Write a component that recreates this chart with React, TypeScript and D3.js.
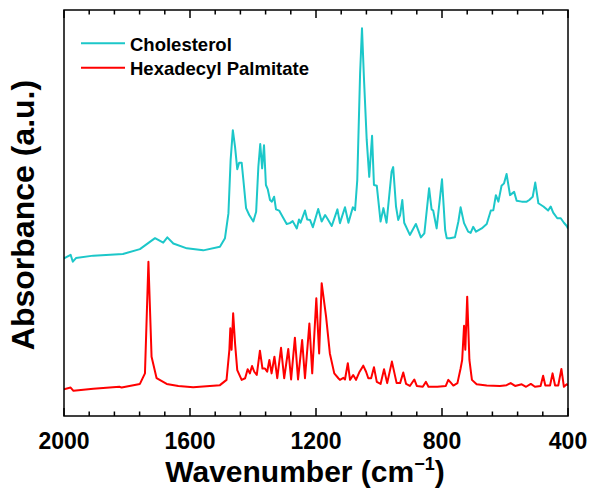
import React from "react";
import * as d3 from "d3";

// Wavenumber (cm^-1) and absorbance (a.u.)
const cholWn = [2000,1979,1972,1962,1907,1813,1759,1711,1685,1672,1653,1610,1558,1505,1489,1478,1471,1464,1457,1450,1444,1436,1431,1422,1412,1399,1390,1383,1377,1371,1365,1359,1353,1346,1340,1333,1327,1317,1306,1293,1283,1274,1261,1254,1249,1235,1228,1219,1210,1193,1182,1171,1163,1150,1132,1124,1108,1097,1083,1076,1069,1060,1054,1048,1039,1031,1022,1016,1007,995,986,976,960,955,946,939,933,926,920,902,883,867,856,841,833,828,817,800,790,785,775,759,748,741,730,717,709,701,692,674,658,645,637,629,621,611,603,595,584,571,563,547,531,523,512,504,494,478,463,455,447,434,423,413,404,400];
const cholAbs = [0.388,0.397,0.380,0.389,0.395,0.399,0.411,0.438,0.427,0.440,0.425,0.413,0.408,0.417,0.438,0.499,0.631,0.704,0.663,0.608,0.624,0.624,0.585,0.512,0.495,0.479,0.503,0.614,0.670,0.610,0.667,0.569,0.558,0.532,0.528,0.540,0.509,0.506,0.491,0.473,0.475,0.480,0.462,0.484,0.476,0.506,0.484,0.483,0.465,0.510,0.479,0.495,0.485,0.468,0.509,0.475,0.514,0.476,0.514,0.507,0.581,0.844,0.955,0.836,0.680,0.589,0.690,0.569,0.567,0.479,0.512,0.476,0.602,0.613,0.516,0.483,0.495,0.532,0.476,0.446,0.473,0.440,0.450,0.561,0.509,0.506,0.462,0.583,0.458,0.438,0.438,0.440,0.479,0.514,0.475,0.454,0.451,0.466,0.454,0.462,0.473,0.506,0.507,0.544,0.528,0.567,0.573,0.596,0.544,0.552,0.530,0.528,0.528,0.532,0.540,0.575,0.524,0.516,0.506,0.516,0.501,0.487,0.487,0.476,0.468,0.462];

const hexWn = [2000,1979,1970,1907,1824,1817,1759,1743,1732,1722,1706,1674,1637,1590,1505,1484,1475,1472,1468,1463,1457,1450,1436,1425,1417,1410,1403,1396,1388,1378,1370,1362,1355,1348,1341,1332,1323,1311,1301,1288,1279,1267,1257,1244,1235,1221,1212,1199,1190,1182,1168,1156,1142,1129,1124,1113,1108,1099,1092,1082,1073,1063,1050,1041,1034,1025,1016,1007,995,984,974,959,944,933,923,914,902,888,880,861,851,843,815,788,780,772,764,751,741,736,730,726,720,713,705,690,658,616,595,582,568,547,533,518,505,487,479,472,457,449,441,431,421,413,404,400];
const hexAbs = [0.066,0.070,0.062,0.067,0.072,0.070,0.079,0.105,0.380,0.146,0.093,0.079,0.074,0.071,0.076,0.089,0.163,0.216,0.163,0.253,0.179,0.113,0.089,0.093,0.115,0.105,0.123,0.109,0.101,0.161,0.117,0.117,0.109,0.138,0.105,0.146,0.093,0.168,0.093,0.165,0.090,0.193,0.090,0.187,0.093,0.228,0.105,0.290,0.154,0.327,0.245,0.154,0.105,0.093,0.089,0.094,0.090,0.130,0.089,0.101,0.089,0.107,0.124,0.109,0.093,0.093,0.120,0.084,0.079,0.115,0.081,0.134,0.081,0.081,0.107,0.079,0.074,0.090,0.074,0.072,0.084,0.072,0.072,0.074,0.089,0.082,0.075,0.081,0.117,0.138,0.222,0.163,0.294,0.138,0.089,0.078,0.075,0.074,0.076,0.081,0.074,0.078,0.072,0.079,0.072,0.074,0.099,0.075,0.075,0.105,0.075,0.075,0.116,0.072,0.078,0.076];

const majorTicks = [2000, 1600, 1200, 800, 400];
const minorStep = 80;
const seriesNames = ["Cholesterol", "Hexadecyl Palmitate"];
const seriesColors = ["#1cc7c9", "#ff0000"];

const W = 590, H = 490;
const L = 64, R = 568, T = 10, B = 416;

export default function App() {
  const x = d3.scaleLinear().domain([2000, 400]).range([L, R]);
  const y = d3.scaleLinear().domain([0, 1]).range([B, T]);
  const line = d3.line<[number, number]>().x(d => x(d[0])).y(d => y(d[1]));
  const chol = cholWn.map((w, i) => [w, cholAbs[i]] as [number, number]);
  const hex = hexWn.map((w, i) => [w, hexAbs[i]] as [number, number]);
  const minor = d3.range(2000, 399, -minorStep).filter(v => !majorTicks.includes(v));
  const font = "'Liberation Sans', Arial, sans-serif";

  return (
    <svg width={W} height={H} style={{ position: "absolute", left: 0, top: 0, background: "#fff" }} fontFamily={font}>
      <defs>
        <clipPath id="plotclip"><rect x={L} y={T} width={R - L} height={B - T} /></clipPath>
      </defs>
      <g clipPath="url(#plotclip)">
        <path d={line(chol) || ""} fill="none" stroke={seriesColors[0]} strokeWidth={2} strokeLinejoin="round" />
        <path d={line(hex) || ""} fill="none" stroke={seriesColors[1]} strokeWidth={2} strokeLinejoin="round" />
      </g>
      <rect x={L} y={T} width={R - L} height={B - T} fill="none" stroke="#000" strokeWidth={1.5} />
      {majorTicks.map(v => (
        <g key={"M" + v}>
          <line x1={x(v)} x2={x(v)} y1={B} y2={B - 8} stroke="#000" strokeWidth={1.5} />
          <line x1={x(v)} x2={x(v)} y1={T} y2={T + 8} stroke="#000" strokeWidth={1.5} />
          <text x={x(v)} y={448.5} textAnchor="middle" fontSize={23} fontWeight="bold">{v}</text>
        </g>
      ))}
      {minor.map(v => (
        <g key={"m" + v}>
          <line x1={x(v)} x2={x(v)} y1={B} y2={B - 4.5} stroke="#000" strokeWidth={1.5} />
          <line x1={x(v)} x2={x(v)} y1={T} y2={T + 4.5} stroke="#000" strokeWidth={1.5} />
        </g>
      ))}
      <text x={305} y={482} textAnchor="middle" fontSize={30} fontWeight="bold">
        Wavenumber (cm<tspan fontSize={18} dy={-12}>−1</tspan><tspan dy={12}>)</tspan>
      </text>
      <text transform={`translate(34,${(T + B) / 2 + 2}) rotate(-90)`} textAnchor="middle" fontSize={32} fontWeight="bold">
        Absorbance (a.u.)
      </text>
      {seriesNames.map((n, i) => (
        <g key={n}>
          <line x1={81} x2={125} y1={43.3 + i * 24.4} y2={43.3 + i * 24.4} stroke={seriesColors[i]} strokeWidth={2} />
          <text x={130} y={51 + i * 23.5} fontSize={18.5} fontWeight="bold">{n}</text>
        </g>
      ))}
    </svg>
  );
}
